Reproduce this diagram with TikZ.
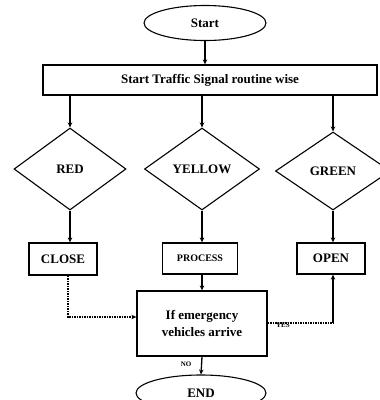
\documentclass[tikz,border=0pt]{standalone}
\usepackage{fontspec}
\setmainfont{Liberation Serif}
\usetikzlibrary{shapes.geometric,arrows.meta}
\begin{document}
\begin{tikzpicture}[x=1pt,y=-1pt,
  font=\bfseries\fontsize{13}{15}\selectfont,
  line width=1.3pt,
  every node/.style={inner sep=0pt},
  term/.style={ellipse,draw,line width=1.1pt},
  boxnode/.style={rectangle,draw,line width=1.3pt},
  dec/.style={diamond,draw,line width=1.1pt},
  arr/.style={-{Stealth[length=5pt,width=4.5pt]}},
  dots/.style={densely dotted,line width=1.5pt},
  lbl/.style={font=\bfseries\fontsize{7}{8}\selectfont}]
\useasboundingbox (0,0) rectangle (380,400);
\clip (0,0) rectangle (380,400);
\node[term,minimum width=122pt,minimum height=35pt] (start) at (205,23) {Start};
\node[boxnode,minimum width=334pt,minimum height=30pt] (routine) at (210,80) {Start Traffic Signal routine wise};
\node[dec,minimum width=112pt,minimum height=82pt] (red) at (70,169) {RED};
\node[dec,minimum width=115pt,minimum height=82pt] (yellow) at (202,169) {YELLOW};
\node[dec,minimum width=115pt,minimum height=78pt] (green) at (333,171) {GREEN};
\node[boxnode,minimum width=68pt,minimum height=32pt] (close) at (63,259) {CLOSE};
\node[boxnode,minimum width=75pt,minimum height=31pt,font=\bfseries\fontsize{10}{12}\selectfont] (process) at (200,258.5) {PROCESS};
\node[boxnode,minimum width=68pt,minimum height=31pt] (open) at (331,258.5) {OPEN};
\node[boxnode,minimum width=130pt,minimum height=65pt,align=center,font=\bfseries\fontsize{13}{17}\selectfont] (emerg) at (202,323.5) {If emergency\\vehicles arrive};
\node[term,minimum width=130pt,minimum height=36pt] (end) at (201,393) {END};
\coordinate (cbend) at (68,317);
\coordinate (ybend) at (333,323);
\draw[arr] (start.south) -- (start.south |- routine.north);
\draw[arr] (routine.south -| red.north) -- (red.north);
\draw[arr] (routine.south -| yellow.north) -- (yellow.north);
\draw[arr] (routine.south -| green.north) -- (green.north);
\draw[arr] (red.south) -- (red.south |- close.north);
\draw[arr] (yellow.south) -- (yellow.south |- process.north);
\draw[arr] (green.south) -- (green.south |- open.north);
\draw[arr] (process.south -| emerg.north) -- (emerg.north);
\draw[arr,dots] (close.south -| cbend) -- (cbend) -- (cbend -| emerg.west);
\draw[dots] (ybend -| emerg.east) -- (ybend);
\draw[arr] (ybend) -- (ybend |- open.south);
\draw[arr] (emerg.south) -- (end.north);
\node[lbl] (yes) at (283,325) {YES};
\node[lbl] (no) at (186,364) {NO};
\end{tikzpicture}
\end{document}
